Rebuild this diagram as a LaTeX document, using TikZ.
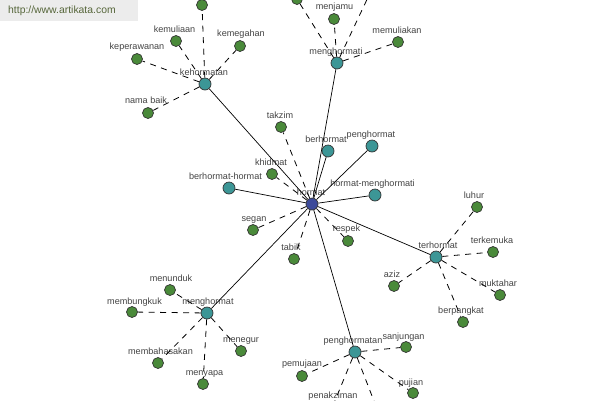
\documentclass[tikz,border=0pt]{standalone}
\usepackage{fontspec}
\setmainfont{Liberation Sans}
\definecolor{hubc}{HTML}{3C4A9A}
\definecolor{midc}{HTML}{3C9696}
\definecolor{leafc}{HTML}{4A8A3A}
\definecolor{txtc}{HTML}{444444}
\definecolor{wmbg}{HTML}{ECECEC}
\definecolor{wmtxt}{HTML}{56663A}
\pgfdeclarelayer{labels}
\pgfdeclarelayer{edges}
\pgfsetlayers{labels,edges,main}
\tikzset{
  hub/.style={circle,draw=black!80,line width=0.7pt,fill=hubc,minimum size=12pt,inner sep=0pt},
  mid/.style={circle,draw=black!80,line width=0.7pt,fill=midc,minimum size=12pt,inner sep=0pt},
  leaf/.style={circle,draw=black!80,line width=0.7pt,fill=leafc,minimum size=11pt,inner sep=0pt},
  lbl/.style={inner sep=0pt,text=txtc,font=\fontsize{9.1}{10}\selectfont,text height=6.6pt,text depth=1.9pt},
  solidedge/.style={draw=black,line width=0.7pt},
  dashedge/.style={draw=black,line width=0.8pt,dash pattern=on 6pt off 5.5pt},
}
\begin{document}
\begin{tikzpicture}[x=1pt,y=-1pt]
\useasboundingbox (0,0) rectangle (600,400);
\begin{pgfonlayer}{labels}
\fill[white] (0,0) rectangle (600,400);
\node[lbl] (l-hormat) at (311,193) {hormat};
\node[lbl] (l-kehormatan) at (204,73) {kehormatan};
\node[lbl] (l-menghormati) at (336,52) {menghormati};
\node[lbl] (l-berhormat) at (326,140) {berhormat};
\node[lbl] (l-penghormat) at (371,135) {penghormat};
\node[lbl] (l-bh) at (225.5,177) {berhormat-hormat};
\node[lbl] (l-hm) at (372.5,184) {hormat-menghormati};
\node[lbl] (l-terhormat) at (438,246) {terhormat};
\node[lbl] (l-menghormat) at (208,302) {menghormat};
\node[lbl] (l-penghormatan) at (353,341) {penghormatan};
\node[lbl] (l-kemuliaan) at (174.5,30) {kemuliaan};
\node[lbl] (l-kemegahan) at (241,34) {kemegahan};
\node[lbl] (l-keperawanan) at (137,47) {keperawanan};
\node[lbl] (l-namabaik) at (146,101) {nama baik};
\node[lbl] (l-menjamu) at (334.5,7) {menjamu};
\node[lbl] (l-memuliakan) at (397,31) {memuliakan};
\node[lbl] (l-takzim) at (280,116) {takzim};
\node[lbl] (l-khidmat) at (271,163) {khidmat};
\node[lbl] (l-segan) at (254,219) {segan};
\node[lbl] (l-tabik) at (291,248) {tabik};
\node[lbl] (l-respek) at (346.5,229) {respek};
\node[lbl] (l-luhur) at (474,196) {luhur};
\node[lbl] (l-terkemuka) at (492,241) {terkemuka};
\node[lbl] (l-muktahar) at (498,284) {muktahar};
\node[lbl] (l-berpangkat) at (461,311) {berpangkat};
\node[lbl] (l-aziz) at (392,275) {aziz};
\node[lbl] (l-menunduk) at (171,279) {menunduk};
\node[lbl] (l-membungkuk) at (134.5,302) {membungkuk};
\node[lbl] (l-membahasakan) at (160.5,352) {membahasakan};
\node[lbl] (l-menegur) at (241,340) {menegur};
\node[lbl] (l-menyapa) at (204.5,373) {menyapa};
\node[lbl] (l-sanjungan) at (403.5,337) {sanjungan};
\node[lbl] (l-pemujaan) at (302,364) {pemujaan};
\node[lbl] (l-pujian) at (411,383) {pujian};
\node[lbl] (l-penakziman) at (333,396) {penakziman};
\end{pgfonlayer}
% nodes
\node[hub] (hormat) at (312,204) {};
\node[mid] (kehormatan) at (205,84) {};
\node[mid] (menghormati) at (337,63) {};
\node[mid] (berhormat) at (328,151) {};
\node[mid] (penghormat) at (372,146) {};
\node[mid] (bh) at (229,188) {};
\node[mid] (hm) at (375,195) {};
\node[mid] (terhormat) at (436,257) {};
\node[mid] (menghormat) at (207,313) {};
\node[mid] (penghormatan) at (355,352) {};
\node[leaf] (ktop) at (202,5) {};
\node[leaf] (kemuliaan) at (176,41) {};
\node[leaf] (kemegahan) at (240,46) {};
\node[leaf] (keperawanan) at (137,59) {};
\node[leaf] (namabaik) at (148,113) {};
\node[leaf] (mtopl) at (297,-1) {};
\node[leaf] (menjamu) at (334,19) {};
\node[leaf] (mtopr) at (371,-9) {};
\node[leaf] (memuliakan) at (398,42) {};
\node[leaf] (takzim) at (281,127) {};
\node[leaf] (khidmat) at (272,174) {};
\node[leaf] (segan) at (253,230) {};
\node[leaf] (tabik) at (294,259) {};
\node[leaf] (respek) at (348,241) {};
\node[leaf] (luhur) at (477,207) {};
\node[leaf] (terkemuka) at (493,252) {};
\node[leaf] (muktahar) at (500,295) {};
\node[leaf] (berpangkat) at (463,322) {};
\node[leaf] (aziz) at (394,286) {};
\node[leaf] (menunduk) at (170,290) {};
\node[leaf] (membungkuk) at (132,312) {};
\node[leaf] (membahasakan) at (158,363) {};
\node[leaf] (menegur) at (241,351) {};
\node[leaf] (menyapa) at (203,384) {};
\node[leaf] (sanjungan) at (406,347) {};
\node[leaf] (pemujaan) at (302,376) {};
\node[leaf] (pujian) at (413,393) {};
\node[leaf] (penakziman) at (332,408) {};
\node[leaf] (pbot) at (379,414) {};
% edges
\begin{pgfonlayer}{edges}
\foreach \m in {kehormatan,menghormati,berhormat,penghormat,bh,hm,terhormat,menghormat,penghormatan}
  \draw[solidedge] (hormat) -- (\m);
\foreach \l in {takzim,khidmat,segan,tabik,respek}
  \draw[dashedge] (hormat) -- (\l);
\foreach \l in {ktop,kemuliaan,kemegahan,keperawanan,namabaik}
  \draw[dashedge] (kehormatan) -- (\l);
\foreach \l in {mtopl,menjamu,mtopr,memuliakan}
  \draw[dashedge] (menghormati) -- (\l);
\foreach \l in {luhur,terkemuka,muktahar,berpangkat,aziz}
  \draw[dashedge] (terhormat) -- (\l);
\foreach \l in {menunduk,membungkuk,membahasakan,menegur,menyapa}
  \draw[dashedge] (menghormat) -- (\l);
\foreach \l in {sanjungan,pemujaan,pujian,penakziman,pbot}
  \draw[dashedge] (penghormatan) -- (\l);
\end{pgfonlayer}
% watermark
\fill[wmbg] (0,0) rectangle (138,21);
\node[anchor=west,inner sep=0pt,text=wmtxt,font=\fontsize{10.4}{12}\selectfont] (wm) at (8,11) {http://www.artikata.com};
\end{tikzpicture}
\end{document}
